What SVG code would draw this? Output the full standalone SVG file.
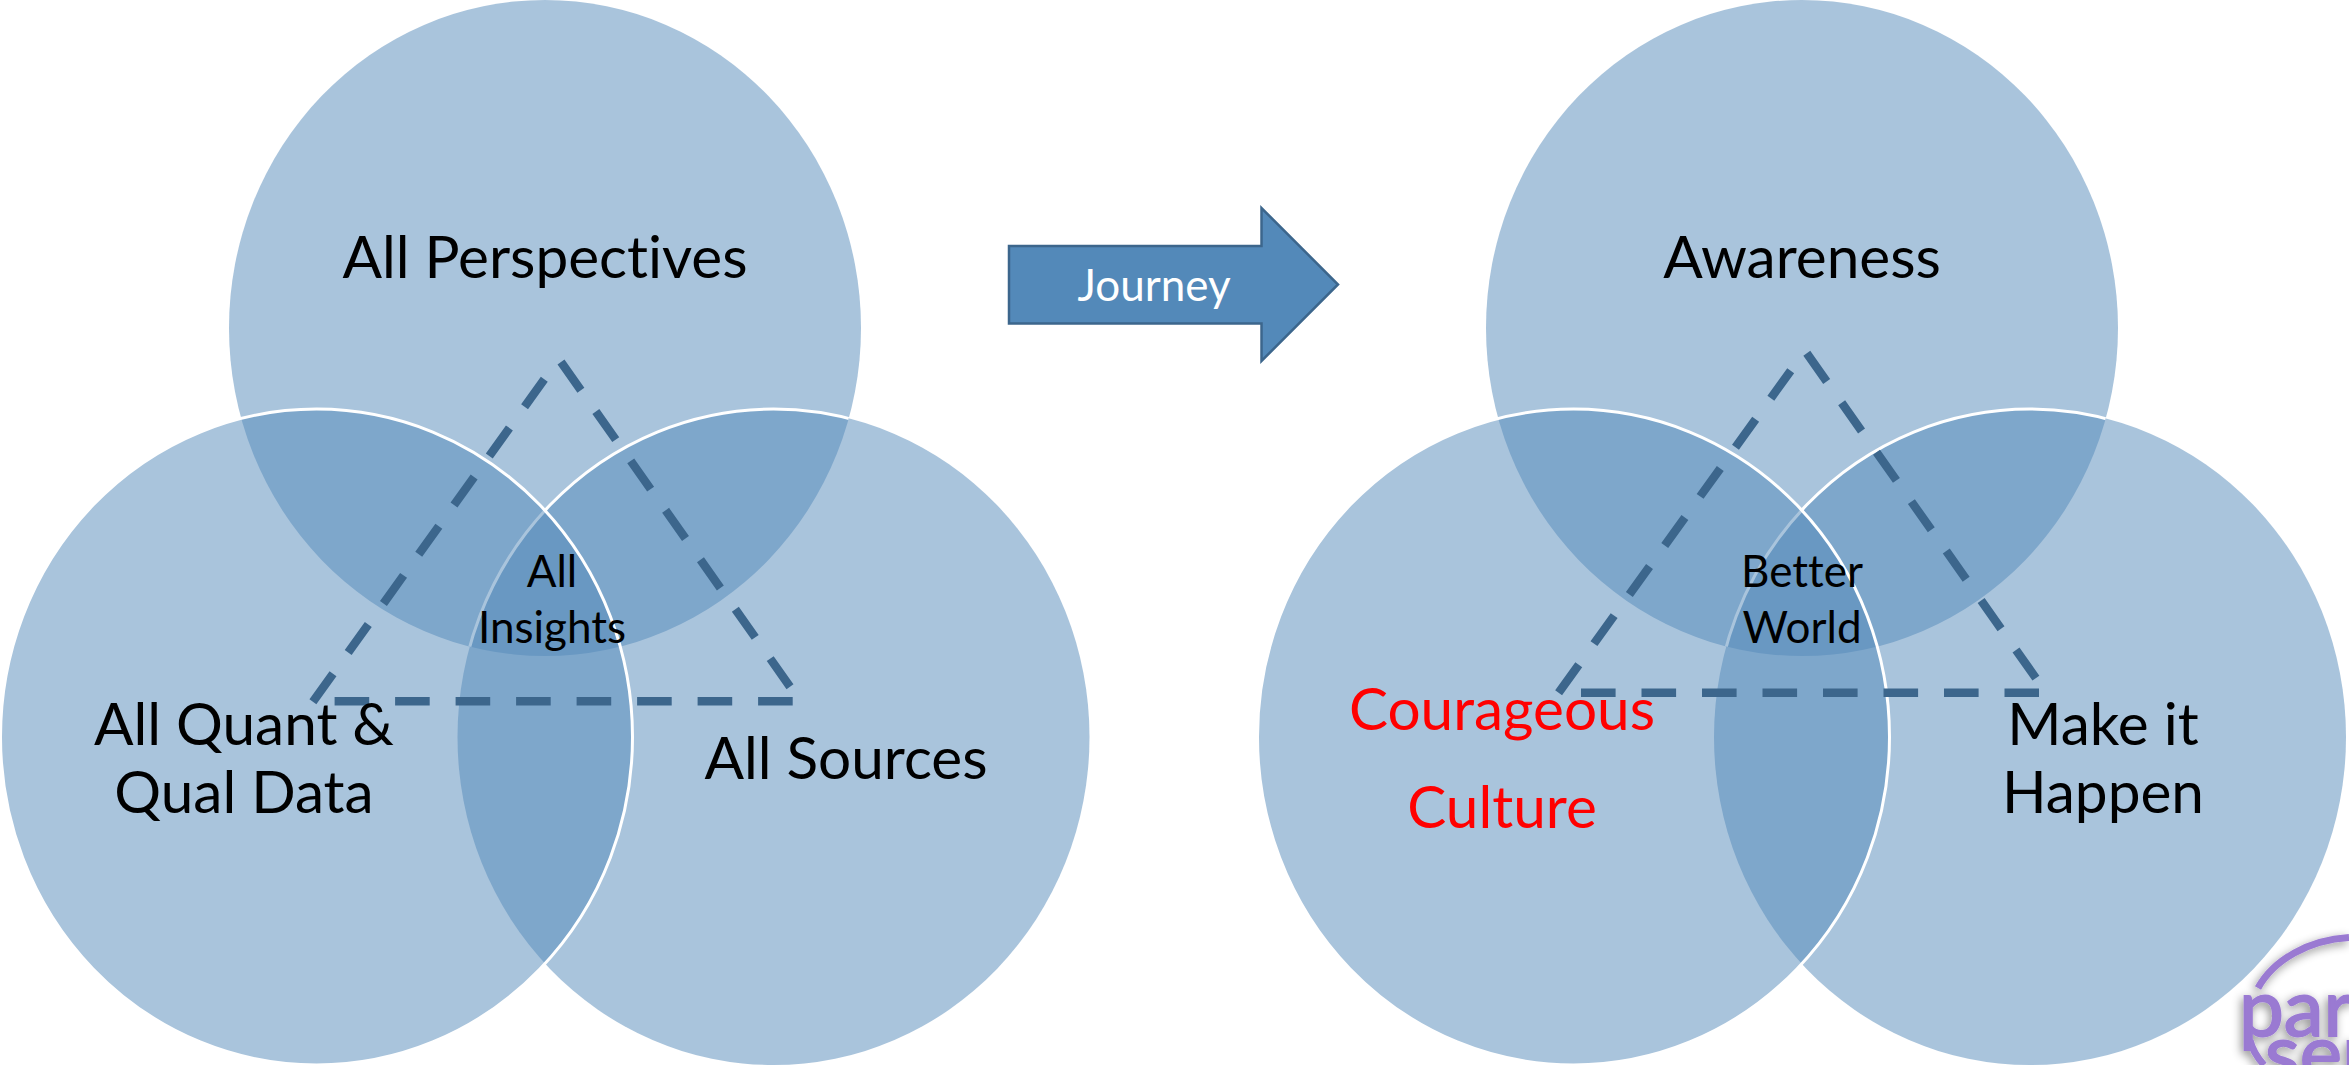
<svg xmlns="http://www.w3.org/2000/svg" width="2349" height="1065" viewBox="0 0 2349 1065">
<style>
.c{fill:#5389B9;fill-opacity:.5}
.w{fill:none;stroke:#fff;stroke-width:3}
.d{fill:none;stroke:#3C668C;stroke-width:8.5}
.s{stroke-dasharray:34.5 26}
.b{stroke-dasharray:34.6 25.9}
text{font-family:Lato,"Open Sans",sans-serif;text-anchor:middle;fill:#000;font-variant-ligatures:none}
.l{font-size:58.5px}
.m{font-size:44px}
.r{fill:#f00}
.p{fill:#9A7AD2;stroke:#9A7AD2;stroke-width:2;font-size:80px;text-anchor:start}
</style>
<defs>
<clipPath id="k1"><ellipse cx="545" cy="328" rx="316" ry="328"/></clipPath>
<clipPath id="k2"><ellipse cx="1802" cy="328" rx="316" ry="328"/></clipPath>
<filter id="sh" x="-30%" y="-30%" width="160%" height="160%"><feDropShadow dx="-2" dy="3" stdDeviation="5" flood-color="#000" flood-opacity=".45"/></filter>
</defs>
<g id="venn-left">
<ellipse id="l-top" class="c" cx="545" cy="328" rx="316" ry="328"/>
<ellipse id="l-right" class="c" cx="773.5" cy="737" rx="316" ry="328"/>
<ellipse class="w" cx="773.5" cy="737" rx="316" ry="328" clip-path="url(#k1)"/>
<ellipse id="l-left" class="c" cx="316.5" cy="737" rx="316" ry="328"/>
<ellipse class="w" cx="316.5" cy="737" rx="316" ry="328"/>
</g>
<g id="venn-right">
<ellipse id="r-top" class="c" cx="1802" cy="328" rx="316" ry="328"/>
<ellipse id="r-right" class="c" cx="2030" cy="737" rx="316" ry="328"/>
<ellipse class="w" cx="2030" cy="737" rx="316" ry="328" clip-path="url(#k2)"/>
<ellipse id="r-left" class="c" cx="1573.5" cy="737" rx="316" ry="328"/>
<ellipse class="w" cx="1573.5" cy="737" rx="316" ry="328"/>
</g>
<g id="connectors">
<path class="d s" d="M312.9 701.7L544.3 379.3"/>
<path class="d s" d="M561 362L790 686.7"/>
<path class="d b" d="M334.6 701.3H793"/>
<path class="d s" d="M1558.6 692.7L1790.7 370.7"/>
<path class="d s" d="M1806.8 353.3L2036 678.3"/>
<path class="d b" d="M1581 692.7H2039"/>
</g>
<g id="journey">
<path d="M1009 246H1261.5V208L1338 284.5L1261.5 361V323.5H1009Z" fill="#5389B9" stroke="#3C668C" stroke-width="2.5"/>
<text x="1154" y="301" font-size="44" style="fill:#fff">Journey</text>
</g>
<g id="t-perspectives"><text class="l" x="545" y="278">All Perspectives</text></g>
<g id="t-quant"><text class="l" x="244" y="745">All Quant &amp;</text><text class="l" x="244" y="813">Qual Data</text></g>
<g id="t-sources"><text class="l" x="846" y="779">All Sources</text></g>
<g id="t-insights"><text class="m" x="552" y="587">All</text><text class="m" x="552" y="643">Insights</text></g>
<g id="t-awareness"><text class="l" x="1802" y="278">Awareness</text></g>
<g id="t-courageous"><text class="l r" x="1502" y="730">Courageous</text><text class="l r" x="1502" y="828">Culture</text></g>
<g id="t-happen"><text class="l" x="2103" y="745">Make it</text><text class="l" x="2103" y="813">Happen</text></g>
<g id="t-better"><text class="m" x="1802" y="587">Better</text><text class="m" x="1802" y="643">World</text></g>
<g id="logo" filter="url(#sh)">
<path d="M2258 988A108 83 0 0 1 2349 937.5M2250 1040Q2253 1053 2264 1065" fill="none" stroke="#9A7AD2" stroke-width="7"/>
<text class="p" x="2239" y="1036">par</text>
<text class="p" x="2265" y="1081">ser</text>
</g>
</svg>
